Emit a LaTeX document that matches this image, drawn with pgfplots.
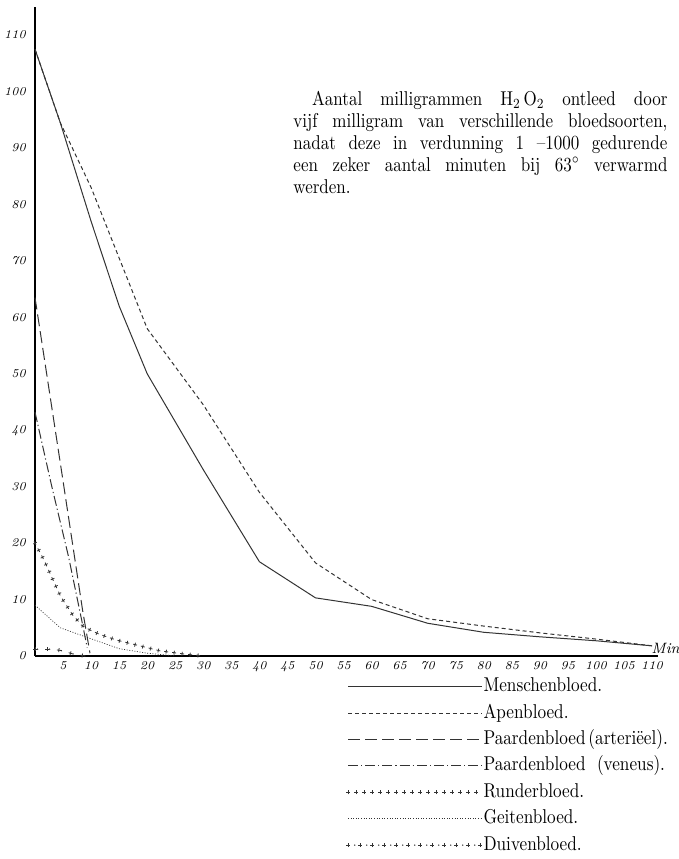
\documentclass[border=0pt]{standalone}
\usepackage{fontspec}
\usepackage{graphicx}
\usepackage{pgfplots}
\pgfplotsset{compat=1.18}
\usetikzlibrary{decorations.markings}

\newcommand{\legtxt}[1]{\scalebox{0.86}[1]{#1}}

\tikzset{
  crossmark/.style={
    postaction={decorate, decoration={markings,
      mark=between positions 0 and 1 step 4pt with {\draw[draw opacity=1,line width=0.4pt,black!80,solid] (-1pt,0)--(1pt,0) (0,-1pt)--(0,1pt);}}}},
  crossdot/.style={
    postaction={decorate, decoration={markings,
      mark=between positions 0 and 1 step 6pt with {\draw[draw opacity=1,line width=0.4pt,black!80,solid] (-1pt,0)--(1pt,0) (0,-1pt)--(0,1pt);}}},
    postaction={decorate, decoration={markings,
      mark=between positions 0.05 and 1 step 6pt with {\fill[fill opacity=1,black!80] (0,0) circle (0.4pt);}}}},
}

\begin{document}
\begin{tikzpicture}
\useasboundingbox (-17.5pt,-101.5pt) rectangle (322pt,328pt);
\begin{axis}[
    x=2.805pt, y=2.8225pt,
    xmin=0, xmax=111, ymin=0, ymax=115,
    enlargelimits=false,
    axis lines=left,
    axis line style={-, line width=0.9pt, black},
    major tick length=0pt,
    xtick={5,10,...,110},
    ytick={0,10,...,110},
    /pgf/number format/assume math mode=true,
    xticklabel style={font=\fontsize{6}{7}\selectfont\itshape, yshift=1pt},
    yticklabel style={font=\fontsize{6}{7}\selectfont\itshape, xshift=-1pt},
    clip=false,
    every axis plot/.append style={line width=0.5pt, black!80},
    legend image code/.code={\draw[#1] (0pt,0pt) -- (67pt,0pt);},
    legend cell align=left,
    legend style={at={(axis cs:55.3,-3.6)}, anchor=north west, draw=none, fill=none,
      inner sep=0pt, row sep=3.2pt,
      font=\fontsize{10}{12}\selectfont,
      nodes={inner sep=0.5pt, text height=7pt, text depth=2pt}},
]
% Menschenbloed
\addplot[solid] coordinates {
  (0,107.5) (4.5,94.5) (10,77) (15,62) (20,50) (30,33) (40,16.7) (50,10.3)
  (60,8.8) (70,5.8) (80,4.2) (90,3.4) (100,2.7) (110,1.8)};
% Apenbloed
\addplot[dash pattern=on 2pt off 1.5pt] coordinates {
  (0,107.5) (4.5,94.5) (10,83) (15,70.5) (20,58) (30,44.5) (40,29) (50,16.5)
  (60,10) (70,6.6) (80,5.3) (90,4.1) (100,3) (110,1.8)};
% Paardenbloed (arterieel)
\addplot[dash pattern=on 6pt off 2.5pt] coordinates {
  (0,63.5) (5,31) (8.5,8) (9.8,0.5)};
% Paardenbloed (veneus)
\addplot[dash pattern=on 5pt off 1.5pt on 0.6pt off 1.5pt] coordinates {
  (0,43.2) (3,30) (6,17.5) (8.5,5.5) (9.3,1.5)};
% Runderbloed
\addplot[draw opacity=0, crossmark] coordinates {
  (0,20) (1.6,17) (3.2,13.5) (4.6,10.5) (6.7,7.3) (8.4,5.4) (10,4.5) (11.6,3.8)
  (14.6,2.8) (18.7,1.8) (22.3,0.9) (27,0.3) (30,0)};
% Geitenbloed
\addplot[dash pattern=on 0.5pt off 0.8pt, line width=0.35pt] coordinates {
  (0,9) (4.5,5) (9,3.4) (15,1.3) (20,0.5) (25,0)};
% Duivenbloed
\addplot[draw opacity=0, crossdot] coordinates {
  (0,1.2) (2.7,1.2) (4.5,1) (7,0.3) (9,0)};
\legend{\legtxt{Menschenbloed.}, \legtxt{Apenbloed.}, \legtxt{Paardenbloed\,(arteriëel).},
  \legtxt{Paardenbloed\ \ (veneus).}, \legtxt{Runderbloed.}, \legtxt{Geitenbloed.}, \legtxt{Duivenbloed.}}

\node[anchor=south west, inner sep=0pt, font=\fontsize{7.5}{8}\selectfont\itshape] at (axis cs:109.8,0.4) {Min};
\node[anchor=north west, inner sep=0pt] at (axis cs:46,100.2)
  {\scalebox{0.85}[1]{\parbox{220pt}{\fontsize{10}{11}\selectfont
   \hspace*{11pt}Aantal milligrammen $\mathrm{H_2\,O_2}$ ontleed door\linebreak
   vijf milligram van verschillende bloedsoorten,\linebreak
   nadat deze in verdunning 1 --1000 gedurende\linebreak
   een zeker aantal minuten bij 63$^\circ$ verwarmd\linebreak
   werden.}}};
\end{axis}
\end{tikzpicture}
\end{document}
